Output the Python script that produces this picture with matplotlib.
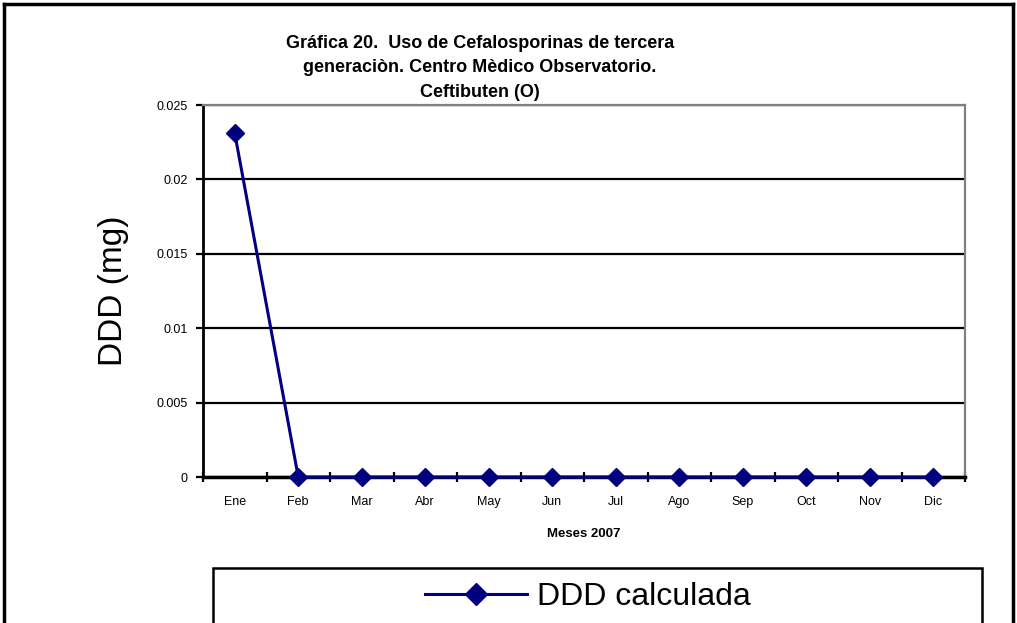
import matplotlib
matplotlib.use("Agg")
import matplotlib.pyplot as plt
from matplotlib.lines import Line2D
from matplotlib.patches import Rectangle
from matplotlib.ticker import FuncFormatter, FixedLocator

# data
meses = ['Ene', 'Feb', 'Mar', 'Abr', 'May', 'Jun', 'Jul', 'Ago', 'Sep', 'Oct', 'Nov', 'Dic']
ddd_calculada = [0.0231, 0, 0, 0, 0, 0, 0, 0, 0, 0, 0, 0]
y_ticks = [0, 0.005, 0.01, 0.015, 0.02, 0.025]

titulo = ('Gráfica 20.  Uso de Cefalosporinas de tercera\n'
          'generaciòn. Centro Mèdico Observatorio.\n'
          'Ceftibuten (O)')

plt.rcParams['font.family'] = ['Liberation Sans', 'DejaVu Sans']
navy = '#000080'

W, H = 1017, 623
fig = plt.figure(figsize=(W / 100, H / 100), dpi=100)
ax = fig.add_axes([203 / W, 1 - 477 / H, (965 - 203) / W, (477 - 105) / H])

x = list(range(len(meses)))
ax.plot(x, ddd_calculada, color=navy, lw=2.2, marker='D', markersize=9,
        markerfacecolor=navy, markeredgecolor=navy, clip_on=False, zorder=5,
        label='DDD calculada')

ax.set_xlim(-0.5, len(meses) - 0.5)
ax.set_ylim(0, 0.025)
ax.set_yticks(y_ticks)
ax.yaxis.set_major_formatter(FuncFormatter(lambda v, p: '%g' % round(v, 4)))
ax.yaxis.grid(True, color='black', lw=1.6)
ax.set_axisbelow(True)

# category ticks between months, labels centred under each month
ax.xaxis.set_major_locator(FixedLocator([i - 0.5 for i in range(len(meses) + 1)]))
ax.xaxis.set_major_formatter(FuncFormatter(lambda v, p: ''))
ax.xaxis.set_minor_locator(FixedLocator(x))
ax.set_xticklabels(meses, minor=True)
ax.tick_params(axis='x', which='major', length=7, width=1.6, direction='inout')
ax.tick_params(axis='x', which='minor', length=0, pad=14, labelsize=9)
ax.tick_params(axis='y', length=5, width=1.6, direction='out', labelsize=9, pad=6)

for side in ['left', 'bottom']:
    ax.spines[side].set_color('black')
    ax.spines[side].set_linewidth(2)
ax.spines['bottom'].set_linewidth(2.5)
for side in ['top', 'right']:
    ax.spines[side].set_color('#808080')
    ax.spines[side].set_linewidth(1.6)

ax.set_ylabel('DDD (mg)', fontsize=24, labelpad=20, family='Liberation Sans')
ax.set_xlabel('Meses 2007', fontsize=9.5, fontweight='bold', labelpad=14)

fig.text(480 / W, 1 - 68 / H, titulo, ha='center', va='center',
         fontsize=13, fontweight='bold', linespacing=1.55, zorder=10)

# outer chart border
fig.add_artist(Line2D([3.5 / W, 3.5 / W], [0, 1 - 3.5 / H], color='black', lw=2.5))
fig.add_artist(Line2D([3.5 / W, 1012.5 / W], [1 - 3.5 / H, 1 - 3.5 / H], color='black', lw=2.5))
fig.add_artist(Line2D([1012.5 / W, 1012.5 / W], [0, 1 - 3.5 / H], color='black', lw=2.5))

# legend box (runs off the bottom of the image)
fig.add_artist(Rectangle((213 / W, -0.05), (982 - 213) / W, 0.05 + 1 - 568 / H,
                         transform=fig.transFigure, fill=False, ec='black', lw=1.8))
handles, labels = ax.get_legend_handles_labels()
fig.legend(handles, labels, loc='center', bbox_to_anchor=(588 / W, 1 - 597 / H),
           frameon=False, fontsize=23, handlelength=3.2, handletextpad=0.3,
           markerscale=1.2)

fig.savefig('out.png', dpi=100)
